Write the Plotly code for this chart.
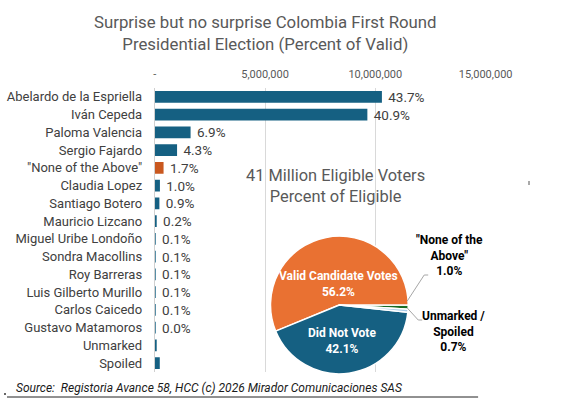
import plotly.graph_objects as go

W, H = 563, 405
# effective horizontal scale observed in the renders (used only to place paper-coordinates)
W_EFF = 535

# ---------------- data ----------------
categories = ["Abelardo de la Espriella", "Iván Cepeda", "Paloma Valencia", "Sergio Fajardo",
              "\"None of the Above\"", "Claudia Lopez", "Santiago Botero", "Mauricio Lizcano",
              "Miguel Uribe Londoño", "Sondra Macollins", "Roy Barreras", "Luis Gilberto Murillo",
              "Carlos Caicedo", "Gustavo Matamoros", "Unmarked", "Spoiled"]
votes = [10300000, 9640000, 1626000, 1013000, 401000, 236000, 212000, 47000,
         24000, 23000, 22000, 21000, 20000, 8000, 60000, 230000]
pct_labels = ["43.7%", "40.9%", "6.9%", "4.3%", "1.7%", "1.0%", "0.9%", "0.2%",
              "0.1%", "0.1%", "0.1%", "0.1%", "0.1%", "0.0%", "", ""]
bar_colors = ["#156082"] * 4 + ["#C9581F"] + ["#156082"] * 11

tick_vals = [0, 5000000, 10000000, 15000000]
tick_text = ["-", "5,000,000", "10,000,000", "15,000,000"]

pie_labels = ["None of the Above", "Valid Candidate Votes", "Did Not Vote", "Unmarked / Spoiled"]
pie_display = ["\"None of the<br>Above\"", "Valid Candidate Votes", "Did Not Vote", "Unmarked /<br>Spoiled"]
pie_pct = [1.0, 56.2, 42.1, 0.7]
pie_colors = ["#196B24", "#E97132", "#156082", "#A9CCEA"]

FONT = "Roboto"


def px(x):
    return x / W_EFF


def py(y):
    return 1 - y / H


fig = go.Figure()

fig.add_trace(go.Bar(
    y=categories, x=votes, orientation="h",
    marker=dict(color=bar_colors, line=dict(width=0)),
    text=pct_labels, texttemplate=" %{text}", textposition="outside",
    constraintext="none",
    textfont=dict(family=FONT, size=13.5, color="#404040"),
    cliponaxis=False, showlegend=False, hoverinfo="x+y",
))

fig.add_trace(go.Pie(
    labels=pie_labels, values=pie_pct, sort=False,
    direction="counterclockwise", rotation=90,
    marker=dict(colors=pie_colors, line=dict(color="white", width=1.5)),
    textinfo="none", hoverinfo="label+percent",
    domain=dict(x=[px(269), px(407)], y=[py(374), py(236)]),
    showlegend=False,
))

annotations = []
# chart title
annotations.append(dict(
    x=px(264), y=py(33), xref="paper", yref="paper", xanchor="center", yanchor="middle",
    text="Surprise but no surprise Colombia First Round<br>Presidential Election (Percent of Valid)",
    showarrow=False, font=dict(family=FONT, size=16.8, color="#595959"),
))
# pie title
annotations.append(dict(
    x=px(334), y=py(185.5), xref="paper", yref="paper", xanchor="center", yanchor="middle",
    text="41 Million Eligible Voters<br>Percent of Eligible",
    showarrow=False, font=dict(family=FONT, size=16.4, color="#595959"),
))
# pie labels
pie_label_pos = [(448, 255, "black"), (337, 284, "white"), (341, 341, "white"), (452, 331.5, "black")]
for lab, pct, (lx, ly, col) in zip(pie_display, pie_pct, pie_label_pos):
    annotations.append(dict(
        x=px(lx), y=py(ly), xref="paper", yref="paper", xanchor="center", yanchor="middle",
        text=f"<b>{lab}<br>{pct:.1f}%</b>", showarrow=False, align="center",
        font=dict(family=FONT, size=12, color=col),
    ))
# source
annotations.append(dict(
    x=px(12), y=py(388), xref="paper", yref="paper", xanchor="left", yanchor="middle",
    text="<i>Source:\u00a0 Registoria Avance 58, HCC (c) 2026 Mirador Comunicaciones SAS</i>",
    showarrow=False, font=dict(family=FONT, size=12, color="#1a1a1a"),
))

shapes = [
    # leader lines
    dict(type="path", xref="paper", yref="paper",
         path=f"M {px(406)},{py(301)} L {px(423)},{py(275)} L {px(427)},{py(275)}",
         line=dict(color="#a6a6a6", width=1)),
    dict(type="path", xref="paper", yref="paper",
         path=f"M {px(406)},{py(308)} L {px(417)},{py(320)} L {px(421)},{py(320)}",
         line=dict(color="#a6a6a6", width=1)),
    # source underline
    dict(type="line", xref="paper", yref="paper", x0=px(5), x1=px(477), y0=py(397), y1=py(397),
         line=dict(color="#222222", width=1)),
    # small dot at the left of the source line
    dict(type="line", xref="paper", yref="paper", x0=px(2), x1=px(4), y0=py(394), y1=py(394),
         line=dict(color="#333333", width=1.5)),
    # stray mark
    dict(type="line", xref="paper", yref="paper", x0=px(528), x1=px(528), y0=py(181), y1=py(185),
         line=dict(color="#555555", width=1)),
]

fig.update_layout(
    width=W, height=H, autosize=False, margin=dict(l=0, r=0, t=0, b=0, pad=0),
    paper_bgcolor="white", plot_bgcolor="white",
    bargap=0.35,
    font=dict(family=FONT, color="#404040"),
    xaxis=dict(domain=[px(153), px(484.5)], range=[0, 15000000], side="top",
               tickvals=tick_vals, ticktext=tick_text,
               tickfont=dict(family=FONT, size=11, color="#595959"),
               showgrid=True, gridcolor="#d9d9d9", gridwidth=1, zeroline=False,
               ticks="outside", ticklen=5, tickcolor="rgba(0,0,0,0)",
               showline=False, fixedrange=True),
    yaxis=dict(domain=[py(372), py(88)], type="category", autorange="reversed",
               tickfont=dict(family=FONT, size=13, color="#404040"),
               ticks="outside", ticklen=9, tickcolor="rgba(0,0,0,0)",
               showline=True, linecolor="#d0d0d0", linewidth=1,
               showgrid=False, zeroline=False, fixedrange=True),
    annotations=annotations, shapes=shapes,
)

fig.write_html(
    "out.html",
    config={"responsive": False, "displayModeBar": False},
    post_script="document.body.style.margin='0';document.body.style.overflow='hidden';",
)
